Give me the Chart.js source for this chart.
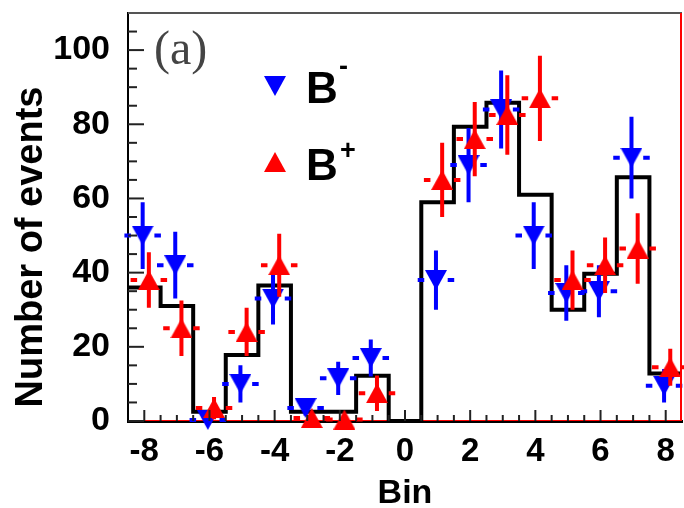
<!DOCTYPE html>
<html>
<head>
<meta charset="utf-8">
<script src="https://cdn.jsdelivr.net/npm/chart.js@4/dist/chart.umd.min.js"></script>
<style>
  body { margin: 0; background: #fff; overflow: hidden; }
  #wrap { width: 684px; height: 508px; }
  canvas { display: block; }
</style>
</head>
<body>
<div id="wrap"><canvas id="binChart" width="684" height="508"></canvas></div>
<script>
// bins and contents
const bins = [-8, -7, -6, -5, -4, -3, -2, -1, 0, 1, 2, 3, 4, 5, 6, 7, 8];
const histCounts = [36, 31, 2.5, 17.8, 36.5, 2.5, 2.5, 12.2, 0, 59, 79.3, 85.8, 61, 30, 39.7, 65.7, 12.8];

const bMinus = [50, 42, 0.3, 10, 33, 3.5, 11.5, 17, null, 38, 69, 84, 50, 34.5, 35, 71, 9.5];
const bMinusErr = [9, 9, 0, 5, 7, 2, 4.5, 5, null, 8, 10, 10.5, 9, 7.5, 7, 11, 4.5];
const bPlus = [38, 25, 3.5, 24, 42, 0.8, 0.4, 7.5, null, 65, 76, 82.5, 87, 38, 42, 46.5, 14.5];
const bPlusErr = [7.5, 7.5, 3, 6.5, 8.5, 0, 0, 4.8, null, 10, 10, 10.7, 11.5, 8, 7.5, 9.5, 5];

const xTicks = [-8, -6, -4, -2, 0, 2, 4, 6, 8];
const yTicks = [0, 20, 40, 60, 80, 100];
const xRange = [-8.5, 8.5];
const yRange = [0, 110];

const BLUE = "#0000ff";
const RED = "#ff0000";
const minusShift = -0.05;
const plusShift = 0.14;

// histogram as a step line through the left bin edges
const histData = bins.map((b, i) => ({ x: b - 0.5, y: histCounts[i] }));
histData.push({ x: bins[bins.length - 1] + 0.5, y: histCounts[histCounts.length - 1] });

function points(vals, shift) {
  const out = [];
  bins.forEach((b, i) => {
    if (vals[i] !== null) out.push({ x: b + shift, y: vals[i] });
  });
  return out;
}

function vBars(vals, errs, shift) {
  const out = [];
  bins.forEach((b, i) => {
    if (vals[i] === null || !errs[i]) return;
    out.push({ x: b + shift, y: vals[i] - errs[i] });
    out.push({ x: b + shift, y: vals[i] + errs[i] });
    out.push({ x: b + shift, y: null });
  });
  return out;
}

// the x errors show as two short dashes either side of the marker
function hBars(vals, shift) {
  const out = [];
  bins.forEach((b, i) => {
    if (vals[i] === null) return;
    const c = b + shift;
    out.push({ x: c - 0.56, y: vals[i] }, { x: c - 0.36, y: vals[i] }, { x: c, y: null });
    out.push({ x: c + 0.36, y: vals[i] }, { x: c + 0.56, y: vals[i] }, { x: c, y: null });
  });
  return out;
}

// ROOT style triangle, centred on its bounding box
function triMarker(color, down) {
  const c = document.createElement("canvas");
  c.width = 22;
  c.height = 20;
  const g = c.getContext("2d");
  g.fillStyle = color;
  g.beginPath();
  if (down) {
    g.moveTo(0, 0); g.lineTo(22, 0); g.lineTo(11, 20);
  } else {
    g.moveTo(0, 20); g.lineTo(22, 20); g.lineTo(11, 0);
  }
  g.closePath();
  g.fill();
  return c;
}

const barStyle = (color) => ({
  type: "line",
  borderColor: color,
  borderWidth: 4,
  pointRadius: 0,
  spanGaps: false,
  clip: false,
});

const FONT = "'Liberation Sans', Arial, Helvetica, sans-serif";

const framePlugin = {
  id: "frame",
  afterDraw(chart) {
    const ctx = chart.ctx;
    const a = chart.chartArea;
    const xs = chart.scales.x;
    const ys = chart.scales.y;
    ctx.save();

    // minor + major ticks pointing into the frame
    ctx.strokeStyle = "#222";
    ctx.lineWidth = 2;
    for (let v = yRange[0]; v <= yRange[1]; v += 5) {
      const py = ys.getPixelForValue(v);
      const len = v % 20 === 0 ? 16 : 9;
      ctx.beginPath();
      ctx.moveTo(a.left, py);
      ctx.lineTo(a.left + len, py);
      ctx.stroke();
    }
    for (let v = -8; v <= 8; v += 0.5) {
      const px = xs.getPixelForValue(v);
      const len = v % 2 === 0 ? 11 : 6;
      ctx.beginPath();
      ctx.moveTo(px, a.bottom);
      ctx.lineTo(px, a.bottom - len);
      ctx.stroke();
    }

    // top and right edges of the frame
    ctx.strokeStyle = "#555";
    ctx.lineWidth = 2;
    ctx.beginPath();
    ctx.moveTo(a.left, a.top);
    ctx.lineTo(a.right, a.top);
    ctx.stroke();
    ctx.strokeStyle = RED;
    ctx.beginPath();
    ctx.moveTo(a.right - 1, a.top);
    ctx.lineTo(a.right - 1, a.bottom);
    ctx.stroke();

    // y title
    ctx.fillStyle = "#000";
    ctx.font = "bold 38px " + FONT;
    ctx.translate(42, 247);
    ctx.rotate(-Math.PI / 2);
    ctx.textAlign = "center";
    ctx.textBaseline = "alphabetic";
    ctx.fillText("Number of events", 0, 0);
    ctx.setTransform(1, 0, 0, 1, 0, 0);

    // panel label
    ctx.fillStyle = "#444";
    ctx.font = "48px 'Liberation Serif', 'Times New Roman', serif";
    ctx.textAlign = "left";
    ctx.fillText("(a)", 154, 64);

    // legend
    ctx.drawImage(triMarker(BLUE, true), 264, 76);
    ctx.drawImage(triMarker(RED, false), 264, 152);

    ctx.fillStyle = "#000";
    ctx.font = "bold 44px " + FONT;
    ctx.fillText("B", 306, 103);
    ctx.fillText("B", 306, 180);
    ctx.font = "bold 27px " + FONT;
    ctx.fillText("-", 339, 75);
    ctx.fillText("+", 340, 159);
    ctx.restore();
  },
};

const ctx = document.getElementById("binChart").getContext("2d");
const binChart = new Chart(ctx, {
  type: "line",
  data: {
    datasets: [
      {
        type: "scatter",
        label: "B+",
        data: points(bPlus, plusShift),
        pointStyle: triMarker(RED, false),
        clip: false,
      },
      { ...barStyle(RED), data: vBars(bPlus, bPlusErr, plusShift) },
      { ...barStyle(RED), data: hBars(bPlus, plusShift) },
      {
        type: "scatter",
        label: "B-",
        data: points(bMinus, minusShift),
        pointStyle: triMarker(BLUE, true),
        clip: false,
      },
      { ...barStyle(BLUE), data: vBars(bMinus, bMinusErr, minusShift) },
      { ...barStyle(BLUE), data: hBars(bMinus, minusShift) },
      {
        label: "hist",
        data: histData,
        stepped: "before",
        borderColor: "#000",
        borderWidth: 4,
        pointRadius: 0,
        clip: false,
      },
      {
        label: "zero",
        data: [{ x: xRange[0], y: 0 }, { x: xRange[1], y: 0 }],
        borderColor: RED,
        borderWidth: 2,
        pointRadius: 0,
      },
    ],
  },
  options: {
    responsive: false,
    animation: false,
    devicePixelRatio: 1,
    layout: { autoPadding: false, padding: { top: 13, right: 2, left: 0, bottom: 0 } },
    plugins: { legend: { display: false }, tooltip: { enabled: false } },
    scales: {
      x: {
        type: "linear",
        min: xRange[0],
        max: xRange[1],
        afterBuildTicks: (scale) => {
          scale.ticks = xTicks.map((v) => ({ value: v }));
        },
        afterFit: (scale) => {
          scale.height = 87;
          scale.paddingLeft = 0;
          scale.paddingRight = 0;
        },
        grid: { display: true, drawOnChartArea: false, drawTicks: false },
        border: { display: true, color: "#000", width: 3 },
        ticks: {
          color: "#000",
          padding: 11,
          maxRotation: 0,
          font: { family: FONT, size: 33, weight: "bold" },
        },
        title: {
          display: true,
          text: "Bin",
          color: "#000",
          padding: { top: 0, bottom: -3 },
          font: { family: FONT, size: 34, weight: "bold", lineHeight: 1 },
        },
      },
      y: {
        min: yRange[0],
        max: yRange[1],
        afterBuildTicks: (scale) => {
          scale.ticks = yTicks.map((v) => ({ value: v }));
        },
        afterFit: (scale) => {
          scale.width = 128;
          scale.paddingTop = 0;
          scale.paddingBottom = 0;
        },
        grid: { display: true, drawOnChartArea: false, drawTicks: false },
        border: { display: true, color: "#000", width: 2 },
        ticks: {
          color: "#000",
          padding: 18,
          font: { family: FONT, size: 34, weight: "bold" },
        },
      },
    },
  },
  plugins: [framePlugin],
});
</script>
</body>
</html>
